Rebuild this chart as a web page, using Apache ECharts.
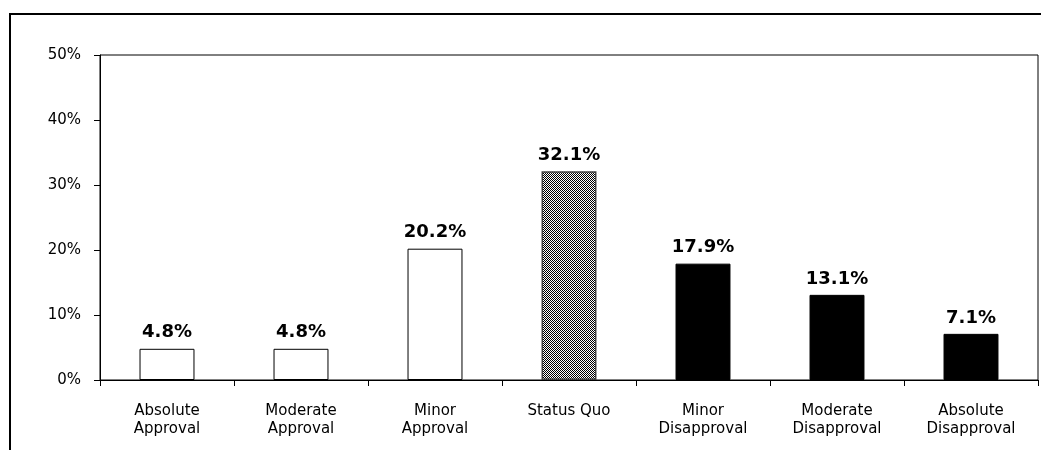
<!DOCTYPE html>
<html>
<head>
<meta charset="utf-8">
<script src="https://cdn.jsdelivr.net/npm/echarts@6/dist/echarts.min.js"></script>
<style>
html,body{margin:0;padding:0;background:#fff;}
#chart{width:1041px;height:450px;}
</style>
</head>
<body>
<div id="chart"></div>
<script>
const categories = ["Absolute\nApproval", "Moderate\nApproval", "Minor\nApproval", "Status Quo", "Minor\nDisapproval", "Moderate\nDisapproval", "Absolute\nDisapproval"];
const values = [4.8, 4.8, 20.2, 32.1, 17.9, 13.1, 7.1];
const groups = ["approval", "approval", "approval", "neutral", "disapproval", "disapproval", "disapproval"];
const yTicks = [0, 10, 20, 30, 40, 50];

// checkerboard pattern for the neutral bar
const pc = document.createElement('canvas');
pc.width = 2; pc.height = 2;
const pctx = pc.getContext('2d');
pctx.fillStyle = '#fff'; pctx.fillRect(0, 0, 2, 2);
pctx.fillStyle = '#000'; pctx.fillRect(0, 0, 1, 1); pctx.fillRect(1, 1, 1, 1);

const styles = {
  approval: { color: '#ffffff', borderColor: '#000', borderWidth: 1 },
  neutral: { color: { image: pc, repeat: 'repeat' }, borderColor: '#444', borderWidth: 1.5 },
  disapproval: { color: '#000000', borderColor: '#000', borderWidth: 1 }
};

const data = values.map((v, i) => ({ value: v, itemStyle: styles[groups[i]] }));

const chart = echarts.init(document.getElementById('chart'), null, { renderer: 'canvas' });
chart.setOption({
  animation: false,
  backgroundColor: '#fff',
  graphic: [{
    type: 'rect',
    shape: { x: 10, y: 14, width: 1200, height: 600 },
    style: { fill: 'none', stroke: '#000', lineWidth: 2 },
    silent: true
  }],
  grid: {
    left: 100, top: 55, right: 3, bottom: 70,
    show: true, borderColor: '#000', borderWidth: 1, backgroundColor: 'transparent'
  },
  xAxis: {
    type: 'category',
    data: categories,
    axisLine: { show: true, lineStyle: { color: '#000', width: 1 } },
    axisTick: { show: true, alignWithLabel: false, length: 6, lineStyle: { color: '#000' } },
    axisLabel: {
      color: '#000', fontFamily: 'DejaVu Sans', fontSize: 15, lineHeight: 18,
      margin: 22, interval: 0
    },
    splitLine: { show: false }
  },
  yAxis: {
    type: 'value',
    min: yTicks[0], max: yTicks[yTicks.length - 1], interval: 10,
    axisLine: { show: true, lineStyle: { color: '#000', width: 1 } },
    axisTick: { show: true, length: 6, lineStyle: { color: '#000' } },
    axisLabel: {
      color: '#000', fontFamily: 'DejaVu Sans', fontSize: 15, margin: 19,
      formatter: v => v + '%'
    },
    splitLine: { show: false }
  },
  series: [{
    type: 'bar',
    data: data,
    barWidth: '41%',
    label: {
      show: true, position: 'top', distance: 7,
      color: '#000', fontFamily: 'DejaVu Sans', fontWeight: 'bold', fontSize: 18,
      formatter: p => p.value.toFixed(1) + '%'
    }
  }]
});
</script>
</body>
</html>
